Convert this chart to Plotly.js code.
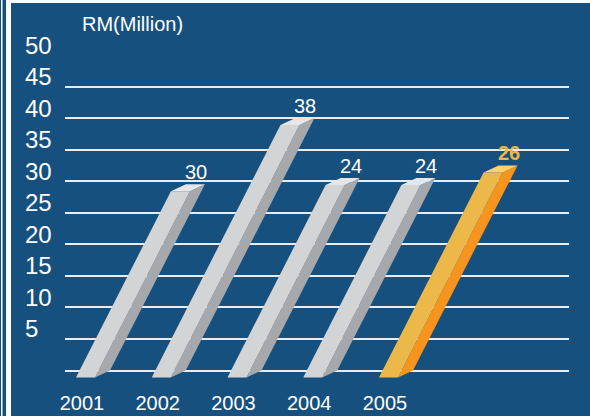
<!DOCTYPE html>
<html>
<head>
<meta charset="utf-8">
<script src="https://cdn.plot.ly/plotly-3.0.1.min.js"></script>
<style>html,body{margin:0;padding:0;background:#15507f;}#chart{width:590px;height:416px;}</style>
</head>
<body>
<div id="chart"></div>
<script>
// ---- data ----
const years = [2001, 2002, 2003, 2004, 2005];
const yearLabels = ['2001', '2002', '2003', '2004', '2005'];
const barHeights = [29.5, 40, 30.5, 30.5, 32.5];
const valueLabels = ['30', '38', '24', '24', '26'];
const gridValues = [0, 5, 10, 15, 20, 25, 30, 35, 40, 45, 50];
const yTickLabels = ['5', '10', '15', '20', '25', '30', '35', '40', '45', '50'];
const yTickValues = [5, 10, 15, 20, 25, 30, 35, 40, 45, 50];
const highlight = [false, false, false, false, true];

// ---- layout geometry ----
const W = 590, H = 416;
const M = {l: 65, r: 21, t: 55, b: 36};
const xRange = [2000.776, 2007.429];
const yRange = [-1.5, 50];
const plotW = W - M.l - M.r, plotH = H - M.t - M.b;
const xPx = plotW / (xRange[1] - xRange[0]);
const yPx = plotH / (yRange[1] - yRange[0]);

// style constants (pixels)
const offsetPx = 9, widthPx = 19, depthXPx = 15, depthYPx = 7, slant = 0.51;
const greyCols = {front: '#d3d4d6', side: '#a7a8ab', top: '#e6e6e8'};
const orangeCols = {front: '#edb84a', side: '#f7941e', top: '#f9d46c'};

const w = widthPx / xPx, dx = depthXPx / xPx, dy = depthYPx / yPx;
const k = slant * yPx / xPx;

const traces = [];
function poly(pts, color) {
  traces.push({
    type: 'scatter', mode: 'lines', fill: 'toself', fillcolor: color,
    x: pts.map(p => p[0]).concat([pts[0][0]]),
    y: pts.map(p => p[1]).concat([pts[0][1]]),
    line: {width: 0, color: color}, hoverinfo: 'skip', showlegend: false
  });
}
const annotations = [];
years.forEach((yr, i) => {
  const v = barHeights[i];
  const b = yr + offsetPx / xPx;
  const bBL = [b, 0], bBR = [b + w, 0], bTR = [b + w + k * v, v], bTL = [b + k * v, v];
  const f = p => [p[0] - dx, p[1] - dy];
  const fBL = f(bBL), fBR = f(bBR), fTR = f(bTR), fTL = f(bTL);
  const c = highlight[i] ? orangeCols : greyCols;
  poly([fBR, bBR, bTR, fTR], c.side);
  poly([fBL, fBR, fTR, fTL], c.front);
  poly([fTL, fTR, bTR, bTL], c.top);
  annotations.push({
    x: bTR[0], y: bTR[1], xref: 'x', yref: 'y', showarrow: false,
    xshift: -9, yshift: 12, xanchor: 'center', yanchor: 'middle',
    text: highlight[i] ? '<b>' + valueLabels[i] + '</b>' : valueLabels[i],
    font: {family: 'Liberation Sans, Arial, sans-serif', size: 20, color: highlight[i] ? '#f0b640' : '#ffffff'}
  });
});

yTickValues.forEach((v, i) => {
  annotations.push({
    x: (23 - M.l) / plotW, xref: 'paper', y: v, yref: 'y', showarrow: false,
    xanchor: 'left', yanchor: 'middle', yshift: 10,
    text: yTickLabels[i],
    font: {family: 'Liberation Sans, Arial, sans-serif', size: 24, color: '#ffffff'}
  });
});
annotations.push({
  x: (80 - M.l) / plotW, xref: 'paper', y: 1 + (M.t - 24) / plotH, yref: 'paper',
  showarrow: false, xanchor: 'left', yanchor: 'middle', text: 'RM(Million)',
  font: {family: 'Liberation Sans, Arial, sans-serif', size: 20, color: '#ffffff'}
});

const shapes = [
  {type: 'rect', xref: 'paper', yref: 'paper', x0: (6 - M.l) / plotW, x1: (11 - M.l) / plotW, y0: -M.b / plotH, y1: 1 + M.t / plotH, fillcolor: '#ffffff', line: {width: 0}, layer: 'below'},
  {type: 'rect', xref: 'paper', yref: 'paper', x0: (1 - M.l) / plotW, x1: (2.5 - M.l) / plotW, y0: -M.b / plotH, y1: 1 + M.t / plotH, fillcolor: '#ffffff', line: {width: 0}, layer: 'below'},
  {type: 'rect', xref: 'paper', yref: 'paper', x0: (6 - M.l) / plotW, x1: (W - M.l) / plotW, y0: 1 + (M.t - 3) / plotH, y1: 1 + M.t / plotH, fillcolor: '#ffffff', line: {width: 0}, layer: 'below'}
];

const layout = {
  width: W, height: H, margin: M,
  paper_bgcolor: '#15507f', plot_bgcolor: '#15507f',
  showlegend: false,
  xaxis: {range: xRange, showgrid: false, zeroline: false, showline: false,
    tickvals: years, ticktext: yearLabels, ticks: '', ticklabelstandoff: 9,
    tickfont: {family: 'Liberation Sans, Arial, sans-serif', size: 20, color: '#ffffff'}, fixedrange: true},
  yaxis: {range: yRange, showgrid: true, gridcolor: '#e8ecf1', gridwidth: 2, zeroline: false,
    tickvals: gridValues, showticklabels: false, ticks: '', fixedrange: true},
  annotations: annotations, shapes: shapes
};
Plotly.newPlot('chart', traces, layout, {displayModeBar: false, staticPlot: true});
</script>
</body>
</html>
